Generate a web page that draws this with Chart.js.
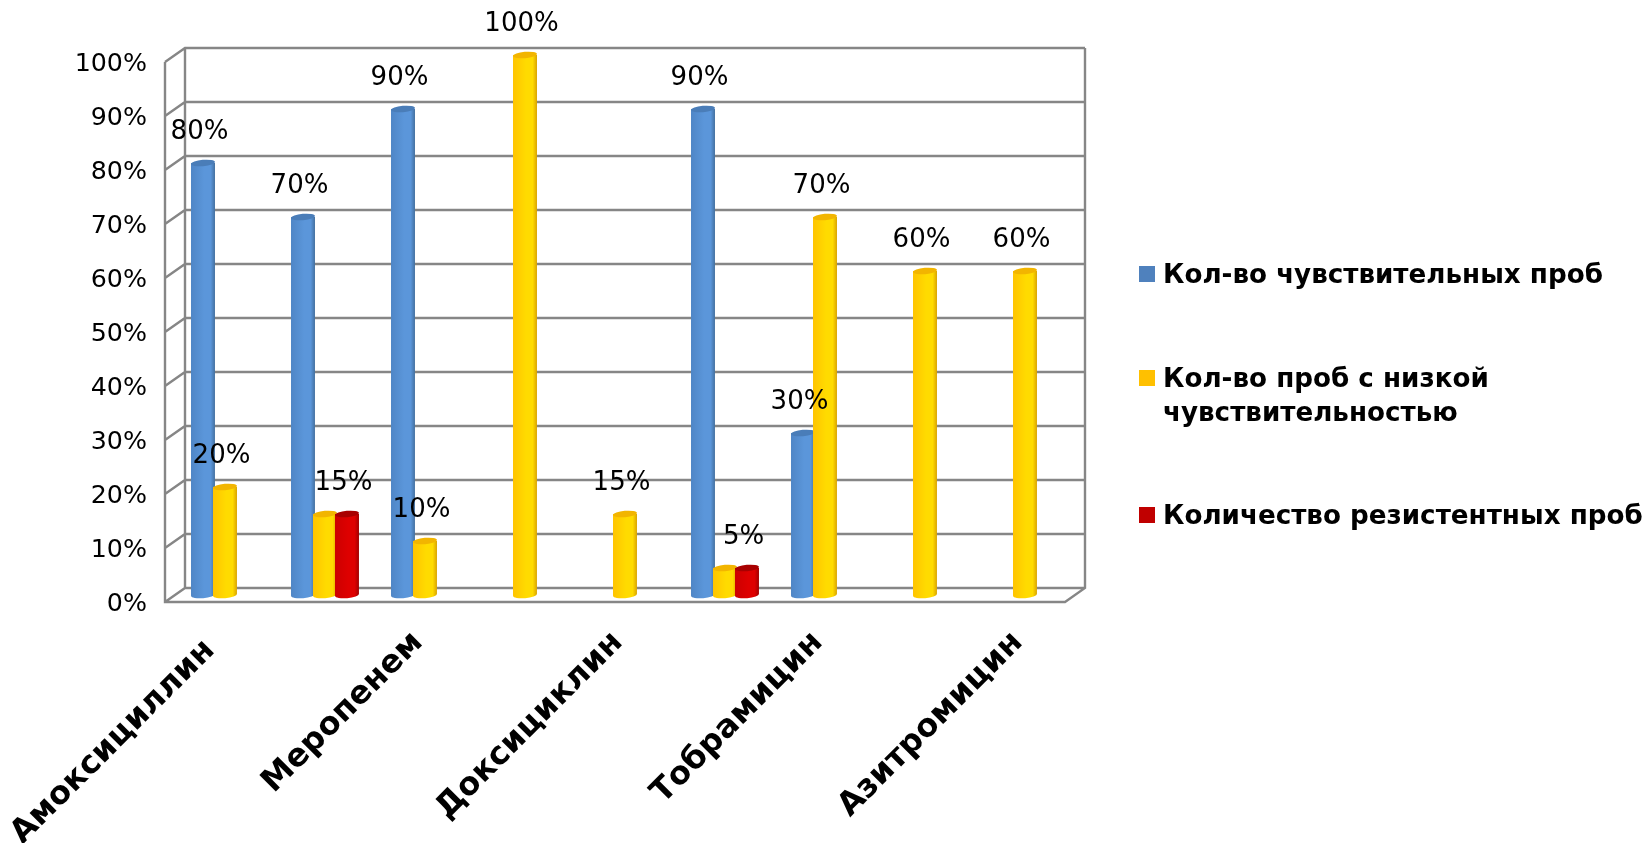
<!DOCTYPE html>
<html>
<head>
<meta charset="utf-8">
<title>Чувствительность</title>
<script src="https://cdn.jsdelivr.net/npm/chart.js@4/dist/chart.umd.min.js"></script>
<style>
	html, body { margin: 0; padding: 0; background: #fff; overflow: hidden; }
	canvas { display: block; }
</style>
</head>
<body>
<canvas id="chart" width="1649" height="843"></canvas>
<script>
// only every second name is printed in the picture
const categories = ['Амоксициллин\u00a0', '', 'Меропенем', '', 'Доксициклин', '', 'Тобрамицин', '', 'Азитромицин'];
const seriesNames = ['Кол-во чувствительных проб', 'Кол-во проб с низкой чувствительностью', 'Количество резистентных проб'];
const sensitive = [80, 70, 90, null, null, 90, 30, null, null];
const lowSensitive = [20, 15, 10, 100, 15, 5, 70, 60, 60];
const resistant = [null, 15, null, null, null, 5, null, null, null];
const percentTicks = [0, 10, 20, 30, 40, 50, 60, 70, 80, 90, 100];

const FONT = '"DejaVu Sans", sans-serif';
const DEPTH_X = 10, DEPTH_Y = 7;	// half of the fake 3d depth

// left edge, middle, right edge, top cap
const palette = [
	['#4f86c6', '#5b96da', '#44709f', '#4a7db8'],
	['#ffc400', '#ffdb00', '#d9a300', '#f2b500'],
	['#cc0000', '#de0000', '#a00000', '#a80000']
];
const legendColors = ['#4f81bd', '#ffc000', '#c00000'];

function drawFrame(chart) {
	const ctx = chart.ctx, area = chart.chartArea, y = chart.scales.y;
	ctx.save();
	ctx.strokeStyle = '#868686';
	ctx.lineWidth = 2.4;
	ctx.beginPath();
	percentTicks.forEach(function (t) {
		const py = y.getPixelForValue(t);
		// wall line and the small step on the side wall
		ctx.moveTo(area.left - DEPTH_X, py + DEPTH_Y);
		ctx.lineTo(area.left + DEPTH_X, py - DEPTH_Y);
		ctx.lineTo(area.right + DEPTH_X, py - DEPTH_Y);
	});
	const top = y.getPixelForValue(100), bottom = y.getPixelForValue(0);
	// verticals
	ctx.moveTo(area.left - DEPTH_X, top + DEPTH_Y);
	ctx.lineTo(area.left - DEPTH_X, bottom + DEPTH_Y);
	ctx.lineTo(area.right - DEPTH_X, bottom + DEPTH_Y);
	ctx.lineTo(area.right + DEPTH_X, bottom - DEPTH_Y);
	ctx.lineTo(area.right + DEPTH_X, top - DEPTH_Y);
	ctx.moveTo(area.left + DEPTH_X, top - DEPTH_Y);
	ctx.lineTo(area.left + DEPTH_X, bottom - DEPTH_Y);
	ctx.stroke();
	ctx.restore();
}

function drawCylinder(ctx, bar, colors) {
	const rx = bar.width / 2, ry = 3.2, tilt = -0.09;
	const left = bar.x - rx, right = bar.x + rx;
	const grad = ctx.createLinearGradient(left, 0, right, 0);
	grad.addColorStop(0, colors[0]);
	grad.addColorStop(0.55, colors[1]);
	grad.addColorStop(0.82, colors[1]);
	grad.addColorStop(1, colors[2]);
	ctx.fillStyle = grad;
	ctx.beginPath();
	ctx.moveTo(left, bar.y);
	ctx.lineTo(left, bar.base);
	ctx.ellipse(bar.x, bar.base, rx, ry, tilt, Math.PI, 0, true);
	ctx.lineTo(right, bar.y);
	ctx.closePath();
	ctx.fill();
	ctx.fillStyle = colors[3];
	ctx.beginPath();
	ctx.ellipse(bar.x, bar.y, rx, ry, tilt, 0, Math.PI * 2);
	ctx.fill();
}

function drawLabels(chart) {
	const ctx = chart.ctx, sets = chart.data.datasets;
	ctx.save();
	ctx.font = '26px ' + FONT;
	ctx.fillStyle = '#000';
	ctx.textAlign = 'center';
	ctx.textBaseline = 'middle';
	sets.forEach(function (set, i) {
		chart.getDatasetMeta(i).data.forEach(function (bar, j) {
			const v = set.data[j];
			if (v === null) return;
			// equal neighbours share one label, the last one keeps it
			if (sets[i + 1] && sets[i + 1].data[j] === v) return;
			ctx.fillText(v + '%', bar.x - 3.5, bar.y - 31);
		});
	});
	ctx.restore();
}

function drawLegend(chart) {
	const ctx = chart.ctx;
	const swatchX = 1139, textX = 1163, maxWidth = 500;
	const swatchY = [274, 378, 515], rowY = [276.5, 380, 517], lineHeight = 34;
	ctx.save();
	ctx.font = 'bold 26.2px ' + FONT;
	ctx.textBaseline = 'middle';
	chart.data.datasets.forEach(function (set, i) {
		ctx.fillStyle = legendColors[i];
		ctx.fillRect(swatchX, swatchY[i] - 8, 16, 16);
		ctx.fillStyle = '#000';
		let line = '', y = rowY[i];
		set.label.split(' ').forEach(function (word) {
			const next = line ? line + ' ' + word : word;
			if (ctx.measureText(next).width > maxWidth) {
				ctx.fillText(line, textX, y);
				y += lineHeight;
				line = word;
			} else {
				line = next;
			}
		});
		ctx.fillText(line, textX, y);
	});
	ctx.restore();
}

const cylinders = {
	id: 'cylinders',
	beforeDatasetsDraw: function (chart) {
		drawFrame(chart);
		// first series goes under the next one, chart.js would do it the other way round
		chart.data.datasets.forEach(function (set, i) {
			chart.getDatasetMeta(i).data.forEach(function (bar, j) {
				if (set.data[j] !== null) drawCylinder(chart.ctx, bar, palette[i]);
			});
		});
	},
	beforeDatasetDraw: function () {
		return false;
	},
	afterDatasetsDraw: function (chart) {
		drawLabels(chart);
		drawLegend(chart);
		// the title is cut by the page top, only the bracket tails remain
		const ctx = chart.ctx;
		ctx.save();
		ctx.font = 'bold 36px ' + FONT;
		ctx.fillStyle = '#000';
		ctx.textAlign = 'center';
		ctx.textBaseline = 'alphabetic';
		ctx.fillText('(', 986, -5);
		ctx.fillText(')', 1141, -5);
		ctx.restore();
	}
};

new Chart(document.getElementById('chart'), {
	type: 'bar',
	data: {
		labels: categories,
		datasets: [
			{ label: seriesNames[0], data: sensitive, backgroundColor: legendColors[0] },
			{ label: seriesNames[1], data: lowSensitive, backgroundColor: legendColors[1] },
			{ label: seriesNames[2], data: resistant, backgroundColor: legendColors[2] }
		]
	},
	options: {
		responsive: false,
		animation: false,
		categoryPercentage: 0.66,
		barPercentage: 1.09,
		layout: { padding: { top: 55, right: 574, bottom: 0, left: 0 } },
		plugins: {
			legend: { display: false },
			tooltip: { enabled: false }
		},
		scales: {
			x: {
				grid: { display: false },
				border: { display: false },
				afterFit: function (scale) {
					scale.height = 248;
					scale.paddingLeft = 0;
					scale.paddingRight = 0;
				},
				ticks: {
					autoSkip: false,
					minRotation: 45,
					maxRotation: 45,
					padding: 21,
					labelOffset: -7,
					color: '#000',
					font: { family: FONT, size: 32, weight: 'bold' }
				}
			},
			y: {
				min: 0,
				max: 100,
				grid: { display: false },
				border: { display: false },
				afterBuildTicks: function (scale) {
					scale.ticks = percentTicks.map(function (v) { return { value: v }; });
				},
				afterFit: function (scale) {
					scale.width = 175;
					scale.paddingTop = 0;
					scale.paddingBottom = 0;
				},
				ticks: {
					padding: 20,
					labelOffset: 9,
					color: '#000',
					font: { family: FONT, size: 25.3 },
					callback: function (v) { return v + '%'; }
				}
			}
		}
	},
	plugins: [cylinders]
});
</script>
</body>
</html>
